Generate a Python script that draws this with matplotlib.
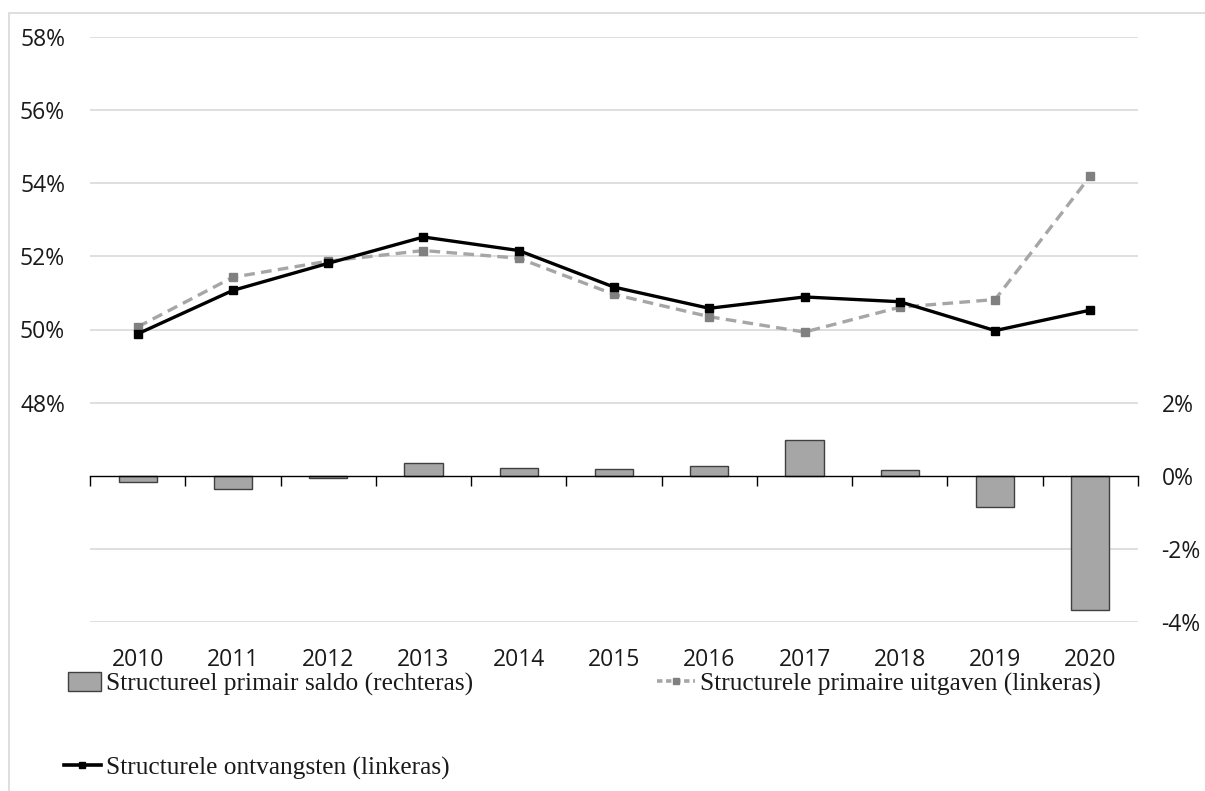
import matplotlib.pyplot as plt
import matplotlib.patches as mpatches
from matplotlib.lines import Line2D
from matplotlib.ticker import FuncFormatter
import numpy as np

# Data (percent of GDP)
years = ['2010', '2011', '2012', '2013', '2014', '2015', '2016', '2017', '2018', '2019', '2020']
saldo = [-0.17, -0.36, -0.06, 0.36, 0.22, 0.18, 0.27, 0.98, 0.16, -0.86, -3.67]
uitgaven = [50.07, 51.43, 51.87, 52.16, 51.95, 50.96, 50.35, 49.93, 50.61, 50.82, 54.20]
ontvangsten = [49.88, 51.07, 51.81, 52.53, 52.16, 51.16, 50.58, 50.89, 50.76, 49.97, 50.53]

bar_grey = '#A6A6A6'
dash_grey = '#A6A6A6'
marker_grey = '#808080'
grid_grey = '#D9D9D9'
text_col = '#1a1a1a'
tick_font = 'Open Sans'
legend_font = 'Liberation Serif'

fig = plt.figure(figsize=(12.05, 7.91), dpi=100)
fig.patch.set_facecolor('white')

# light frame round the chart area
fig.add_artist(mpatches.Rectangle((9 / 1205, -0.01), 1.0, 1 - 13 / 791 + 0.01,
                                  transform=fig.transFigure, fill=False,
                                  edgecolor='#D9D9D9', linewidth=1.2))

left, right = 90 / 1205, 1138 / 1205
top, bottom = 1 - 37 / 791, 1 - 622 / 791
ax_bar = fig.add_axes([left, bottom, right - left, top - bottom])
ax_line = ax_bar.twinx()

x = np.arange(len(years))

# bars on the right-hand axis (-4% .. 12%)
ax_bar.bar(x, saldo, width=0.4, color=bar_grey, edgecolor='#404040',
           linewidth=1.0, zorder=2)
ax_bar.set_ylim(-4, 12)
ax_bar.set_xlim(-0.5, len(years) - 0.5)
ax_bar.set_yticks(np.arange(-4, 13, 2))
ax_bar.yaxis.tick_right()
ax_bar.yaxis.set_major_formatter(FuncFormatter(lambda v, p: f'{v:.0f}%' if v <= 2 else ''))
for yv in np.arange(-4, 13, 2):
    if yv != 0:
        ax_bar.axhline(yv, color=grid_grey, linewidth=1.2, zorder=0)
ax_bar.set_xticks(x)
ax_bar.set_xticklabels(years)
ax_bar.tick_params(axis='x', length=0, pad=19, labelsize=16.5, labelcolor=text_col)
ax_bar.tick_params(axis='y', length=0, pad=17, labelsize=16.5, labelcolor=text_col)
for lab in ax_bar.get_xticklabels() + ax_bar.get_yticklabels():
    lab.set_fontfamily(tick_font)
for sp in ax_bar.spines.values():
    sp.set_visible(False)

# category axis through the 0% level of the right-hand axis
zero_axis = ax_bar.secondary_xaxis(4 / 16)
zero_axis.set_xticks(np.arange(len(years) + 1) - 0.5)
zero_axis.tick_params(axis='x', length=7, width=1.0, direction='out',
                      labelbottom=False, color='black')
zero_axis.spines['bottom'].set_color('black')
zero_axis.spines['bottom'].set_linewidth(1.0)
zero_axis.set_zorder(3)

# lines on the left-hand axis (42% .. 58%)
ax_line.plot(x, uitgaven, color=dash_grey, linewidth=2.4, dashes=(3.2, 1.9),
             marker='s', markersize=5.5, markerfacecolor=marker_grey,
             markeredgecolor=marker_grey, zorder=3)
ax_line.plot(x, ontvangsten, color='black', linewidth=2.4,
             marker='s', markersize=5.5, markerfacecolor='black',
             markeredgecolor='black', zorder=4)
ax_line.set_ylim(42, 58)
ax_line.set_yticks(np.arange(42, 59, 2))
ax_line.yaxis.tick_left()
ax_line.yaxis.set_major_formatter(FuncFormatter(lambda v, p: f'{v:.0f}%' if v >= 48 else ''))
ax_line.tick_params(axis='y', length=0, pad=18, labelsize=16.5, labelcolor=text_col)
for lab in ax_line.get_yticklabels():
    lab.set_fontfamily(tick_font)
for sp in ax_line.spines.values():
    sp.set_visible(False)

# legend: one entry per box so each sits where it belongs
h_saldo = mpatches.Patch(facecolor=bar_grey, edgecolor='#404040', linewidth=1.0)
h_uit = Line2D([], [], color=dash_grey, linewidth=2.6, dashes=(1.5, 1.0),
               marker='s', markersize=4.5, markerfacecolor=marker_grey,
               markeredgecolor=marker_grey)
h_ont = Line2D([], [], color='black', linewidth=2.6, marker='s', markersize=4.5,
               markerfacecolor='black', markeredgecolor='black')
entries = [
    (h_saldo, 'Structureel primair saldo (rechteras)', 68, 684, 1.3),
    (h_uit, 'Structurele primaire uitgaven (linkeras)', 657, 684, 1.5),
    (h_ont, 'Structurele ontvangsten (linkeras)', 64, 768, 1.45),
]
for handle, label, px, py, hl in entries:
    leg = fig.legend([handle], [label], loc='center left',
                     bbox_to_anchor=(px / 1205, 1 - py / 791),
                     frameon=False, borderpad=0, borderaxespad=0,
                     handlelength=hl, handletextpad=0.2, handleheight=0.75,
                     prop={'family': legend_font, 'size': 18.3})
    for t in leg.get_texts():
        t.set_color(text_col)

plt.savefig('out.png', dpi=100, facecolor='white')
plt.close()
